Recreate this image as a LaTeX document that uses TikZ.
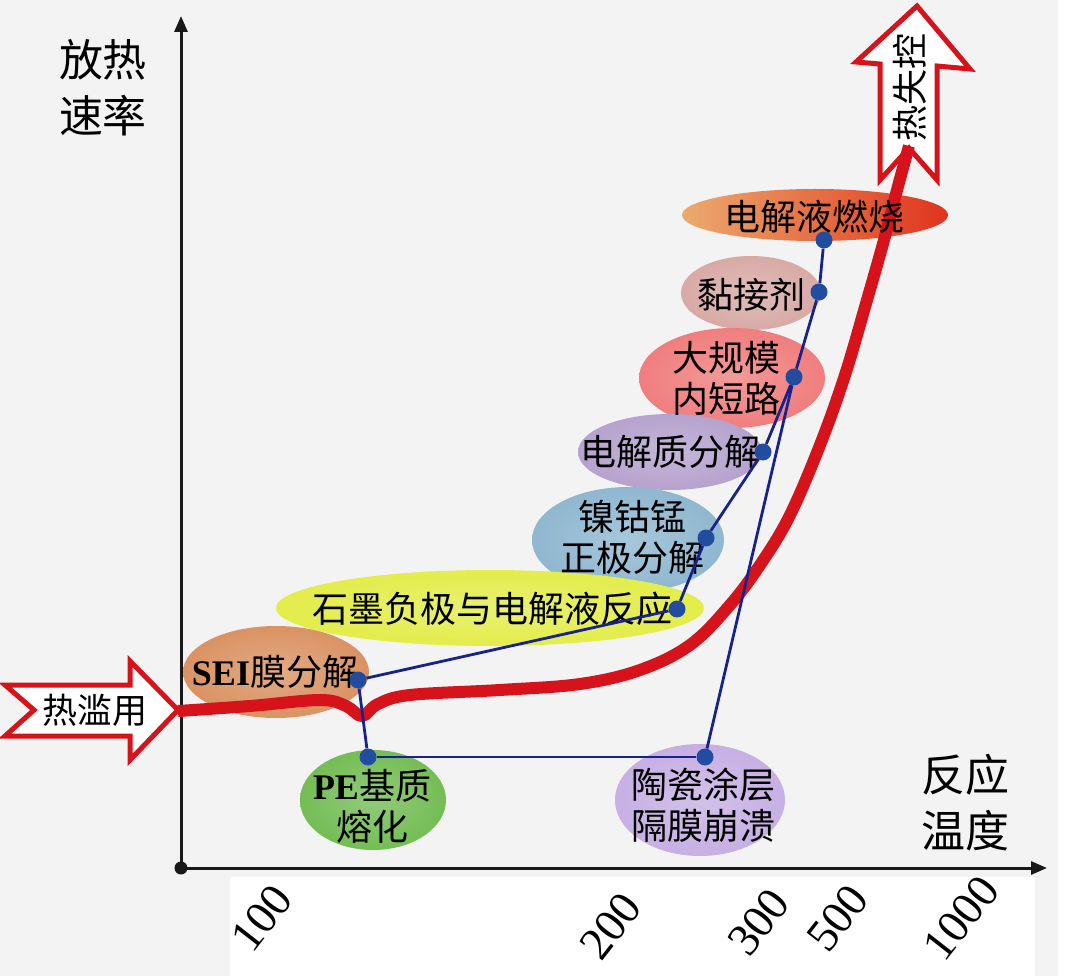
\documentclass[tikz,border=0pt]{standalone}
\usepackage{fontspec}
\setmainfont{Liberation Serif}
\newfontfamily\cjk{Noto Sans CJK SC}
\usetikzlibrary{arrows.meta}
\definecolor{paper}{RGB}{243,243,243}
\definecolor{hot}{RGB}{214,18,26}
\definecolor{link}{RGB}{24,34,140}
\definecolor{hubc}{RGB}{34,76,160}
\definecolor{cburnL}{RGB}{236,170,110}
\definecolor{cburnM}{RGB}{232,128,60}
\definecolor{cburnR}{RGB}{224,52,28}
\definecolor{cbind}{RGB}{214,166,162}
\definecolor{cshort}{RGB}{240,120,120}
\definecolor{cdec}{RGB}{178,158,204}
\definecolor{cncm}{RGB}{138,180,206}
\definecolor{cgra}{RGB}{226,236,66}
\definecolor{csei}{RGB}{216,142,92}
\definecolor{cpe}{RGB}{110,186,78}
\definecolor{ccer}{RGB}{196,172,226}
\colorlet{ellc}{black}
\pgfdeclareradialshading[ellc]{blob}{\pgfpoint{0bp}{0bp}}{color(0bp)=(ellc!75!white); color(30bp)=(ellc); color(40bp)=(ellc!85!paper); color(50bp)=(ellc!20!paper)}
\tikzset{
  blob/.style={shading=blob, /utils/exec={\colorlet{ellc}{#1}}},
  tag/.style={font=\cjk\fontsize{36}{41}\selectfont, align=center, inner sep=0pt},
  axlab/.style={font=\cjk\fontsize{44}{56}\selectfont, align=left, inner sep=0pt},
  ticklab/.style={font=\fontsize{46}{46}\selectfont, rotate=52, inner sep=0pt},
  hub/.style={circle, fill=hubc, inner sep=0pt, minimum size=17pt},
  wire/.style={link, line width=2.8pt},
  hollow/.style={draw=hot, line width=5pt, fill=white, line join=miter},
  ax/.style={line width=3pt, black!90, -{Triangle[length=16pt, width=13pt]}},
}

\begin{document}
\begin{tikzpicture}[x=1pt, y=-1pt]
  \useasboundingbox (0,0) rectangle (1080,976);
  \fill[white] (0,0) rectangle (1080,976);
  \fill[paper] (0,0) rectangle (1058,976);
  \fill[white] (230,877) rectangle (1035,976);

  % blobs behind the labels
  \shade[left color=cburnL, middle color=cburnM, right color=cburnR] (815,215) ellipse [x radius=133pt, y radius=26pt];
  \shade[blob=cbind] (751,293) ellipse [x radius=70pt, y radius=37pt];
  \shade[blob=cshort] (732,378) ellipse [x radius=93pt, y radius=50pt];
  \shade[blob=cdec] (670,452) ellipse [x radius=92pt, y radius=38pt];
  \shade[blob=cncm] (628,540) ellipse [x radius=96pt, y radius=53pt];
  \shade[blob=cgra] (490,608) ellipse [x radius=214pt, y radius=38pt];
  \shade[blob=csei] (276,672) ellipse [x radius=93pt, y radius=46pt];
  \shade[blob=cpe] (373,800) ellipse [x radius=73pt, y radius=50pt];
  \shade[blob=ccer] (700,800) ellipse [x radius=85pt, y radius=56pt];

  % axes
  \node[circle, fill=black!90, inner sep=0pt, minimum size=13pt] (o) at (181,868) {};
  \coordinate (ytop) at (181,16);
  \coordinate (xend) at (1047,868);
  \draw[ax] (o.center) -- (ytop);
  \draw[ax] (o.center) -- (xend);
  \node[axlab] (ylab) at (103,88) {放热\\速率};
  \node[axlab] (xlab) at (965,803) {反应\\温度};

  \node[ticklab] (t100) at (262,918) {100};
  \node[ticklab] (t200) at (611,926) {200};
  \node[ticklab] (t300) at (759,922) {300};
  \node[ticklab] (t500) at (838,918) {500};
  \node[ticklab] (t1000) at (961,918) {1000};

  % hollow arrows
  \draw[hollow] (5,685) -- (130,685) -- (130,661) -- (178,710) -- (130,760) -- (130,736) -- (5,736) -- (34,710) -- cycle;
  \node[tag, font=\cjk\fontsize{35}{40}\selectfont] (abuse) at (95,710) {热滥用};
  \draw[hollow] (917,6) -- (970,69) -- (937,66) -- (937,180) -- (909,148) -- (880,180) -- (880,64) -- (856,62) -- cycle;
  \node[tag, rotate=90] (runaway) at (910,88) {热失控};

  % heat release curve
  \coordinate (tipL) at (178,711);
  \coordinate (notch) at (909,146);
  \draw[hot, line width=12pt] plot[smooth, tension=0.6] coordinates {
    (tipL) (250,706) (320,700) (346,706) (362,716) (378,704) (410,695) (500,690)
    (580,684) (640,670) (690,645) (730,605) (762,562) (790,515) (820,445)
    (845,375) (867,300) (884,240) (897,190) (notch)};

  % labels
  \node[tag] (lbrn) at (814,217) {电解液燃烧};
  \node[tag] (lbnd) at (751,295) {黏接剂};
  \node[tag] (lsht) at (726,378) {大规模\\内短路};
  \node[tag] (ldec) at (670,452) {电解质分解};
  \node[tag] (lncm) at (632,537) {镍钴锰\\正极分解};
  \node[tag] (lgra) at (492,609) {石墨负极与电解液反应};
  \node[tag] (lsei) at (275,672) {{\rmfamily\bfseries SEI}膜分解};
  \node[tag] (lpe) at (372,806) {{\rmfamily\bfseries PE}基质\\熔化};
  \node[tag] (lcer) at (703,805) {陶瓷涂层\\隔膜崩溃};

  % reaction chain
  \node[hub] (hsei) at (358,680) {};
  \node[hub] (hpe) at (368,757) {};
  \node[hub] (hcer) at (705,757) {};
  \node[hub] (hgra) at (677,609) {};
  \node[hub] (hncm) at (706,538) {};
  \node[hub] (hdec) at (763,452) {};
  \node[hub] (hsht) at (794,377) {};
  \node[hub] (hbnd) at (819,292) {};
  \node[hub] (hbrn) at (824,240) {};
  \draw[wire] (hsei) -- (hpe); \draw[wire] (hpe) -- (hcer); \draw[wire] (hcer) -- (hsht);
  \draw[wire] (hsei) -- (hgra); \draw[wire] (hgra) -- (hncm); \draw[wire] (hncm) -- (hdec);
  \draw[wire] (hdec) -- (hsht); \draw[wire] (hsht) -- (hbnd); \draw[wire] (hbnd) -- (hbrn);
\end{tikzpicture}
\end{document}
